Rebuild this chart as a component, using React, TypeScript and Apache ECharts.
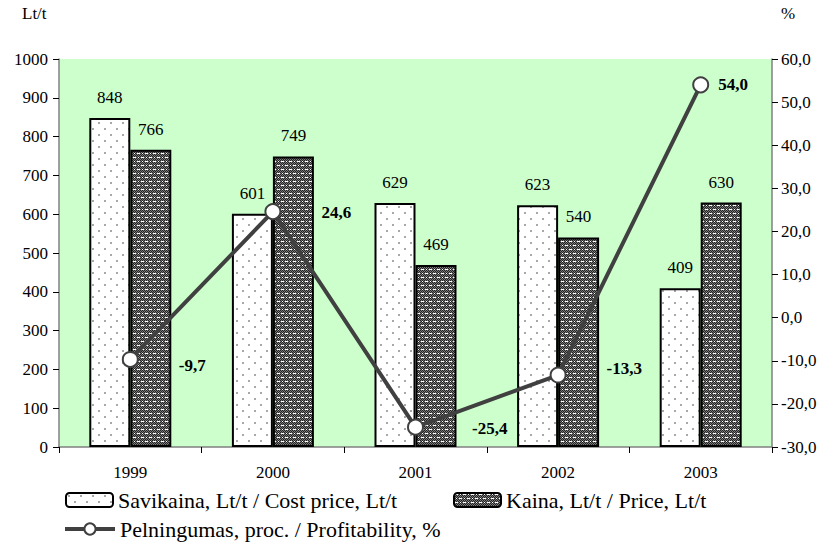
import React, { useEffect, useRef } from "react";
import * as echarts from "echarts";

const years = ["1999", "2000", "2001", "2002", "2003"];
const costPrice = [848, 601, 629, 623, 409];
const price = [766, 749, 469, 540, 630];
const profitability = [-9.7, 24.6, -25.4, -13.3, 54.0];

const costName = "Savikaina, Lt/t / Cost price, Lt/t";
const priceName = "Kaina, Lt/t / Price, Lt/t";
const profitName = "Pelningumas, proc. / Profitability, %";

const labelOffsets = [
  [0, 6],
  [0, 1],
  [8, 1],
  [0, -7],
  [-31, 0],
];

const FONT = "Liberation Serif";

function makeDotPattern(): HTMLCanvasElement {
  const c = document.createElement("canvas");
  c.width = 12;
  c.height = 12;
  const ctx = c.getContext("2d")!;
  ctx.fillStyle = "#ffffff";
  ctx.fillRect(0, 0, 12, 12);
  ctx.fillStyle = "#a8a8a8";
  ctx.fillRect(2, 2, 2, 2);
  ctx.fillRect(8, 8, 2, 2);
  return c;
}

function makeDarkPattern(): HTMLCanvasElement {
  const c = document.createElement("canvas");
  c.width = 8;
  c.height = 8;
  const ctx = c.getContext("2d")!;
  ctx.fillStyle = "#7a7a7a";
  ctx.fillRect(0, 0, 8, 8);
  ctx.fillStyle = "#222222";
  for (let y = 0; y < 8; y++) {
    for (let x = 0; x < 8; x++) {
      if ((x + y) % 2 === 0) ctx.fillRect(x, y, 1, 1);
    }
  }
  ctx.fillStyle = "#ffffff";
  ctx.fillRect(1, 1, 3, 1);
  ctx.fillRect(5, 5, 3, 1);
  ctx.fillRect(6, 1, 1, 1);
  ctx.fillRect(2, 5, 1, 1);
  return c;
}

const fmt1 = (v: number) => v.toFixed(1).replace(".", ",");

export default function App() {
  const ref = useRef<HTMLDivElement>(null);

  useEffect(() => {
    if (!ref.current) return;
    const chart = echarts.init(ref.current, undefined, { renderer: "svg" });
    const dot = { image: makeDotPattern(), repeat: "repeat" } as any;
    const dark = { image: makeDarkPattern(), repeat: "repeat" } as any;

    const legendText = { fontFamily: FONT, fontSize: 22, color: "#000" };
    const AX = 17;
    const unitStyle = {
      fontFamily: FONT,
      fontSize: AX,
      fontWeight: "normal",
      color: "#000",
    };

    chart.setOption({
      animation: false,
      backgroundColor: "#ffffff",
      textStyle: { fontFamily: FONT },
      title: [
        { text: "Lt/t", left: 22, top: 5, padding: 0, textStyle: unitStyle },
        { text: "%", left: 781, top: 5, padding: 0, textStyle: unitStyle },
      ],
      grid: {
        left: 59,
        right: 53,
        top: 59,
        bottom: 97,
        show: true,
        backgroundColor: "#ccffcc",
        borderWidth: 0,
      },
      legend: [
        {
          data: [costName],
          left: 65,
          top: 489,
          padding: 0,
          itemWidth: 47,
          itemHeight: 14,
          textStyle: legendText,
          selectedMode: false,
        },
        {
          data: [priceName],
          left: 453,
          top: 489,
          padding: 0,
          itemWidth: 47,
          itemHeight: 14,
          textStyle: legendText,
          selectedMode: false,
        },
        {
          data: [profitName],
          left: 63,
          top: 518,
          padding: 0,
          itemWidth: 50,
          itemHeight: 14,
          textStyle: legendText,
          selectedMode: false,
          lineStyle: { width: 4, color: "#404040" },
          itemStyle: { color: "#ffffff", borderColor: "#404040", borderWidth: 2 },
        },
      ],
      xAxis: {
        type: "category",
        data: years,
        boundaryGap: true,
        axisLine: { lineStyle: { color: "#808080", width: 1.5 } },
        axisTick: { show: true, length: 6, lineStyle: { color: "#000" } },
        axisLabel: { margin: 17, fontSize: AX, color: "#000", fontFamily: FONT },
        splitLine: { show: false },
      },
      yAxis: [
        {
          type: "value",
          min: 0,
          max: 1000,
          interval: 100,
          position: "left",
          axisLine: { show: true, lineStyle: { color: "#808080", width: 1.5 } },
          axisTick: { show: true, length: 6, lineStyle: { color: "#000" } },
          axisLabel: {
            margin: 11,
            fontSize: AX,
            color: "#000",
            fontFamily: FONT,
            formatter: (v: number) => String(v),
          },
          splitLine: { show: false },
        },
        {
          type: "value",
          min: -30,
          max: 60,
          interval: 10,
          position: "right",
          axisLine: { show: true, lineStyle: { color: "#808080", width: 1.5 } },
          axisTick: { show: true, length: 6, lineStyle: { color: "#000" } },
          axisLabel: {
            margin: 9,
            fontSize: AX,
            color: "#000",
            fontFamily: FONT,
            formatter: (v: number) => fmt1(v),
          },
          splitLine: { show: false },
        },
      ],
      series: [
        {
          name: costName,
          type: "bar",
          yAxisIndex: 0,
          data: costPrice,
          barWidth: 41,
          barGap: "0%",
          itemStyle: { color: dot, borderColor: "#000", borderWidth: 2 },
          label: {
            show: true,
            position: "top",
            distance: 12,
            fontSize: AX,
            color: "#000",
            fontFamily: FONT,
          },
        },
        {
          name: priceName,
          type: "bar",
          yAxisIndex: 0,
          data: price,
          barWidth: 41,
          barGap: "0%",
          itemStyle: { color: dark, borderColor: "#000", borderWidth: 2 },
          label: {
            show: true,
            position: "top",
            distance: 12,
            fontSize: AX,
            color: "#000",
            fontFamily: FONT,
          },
        },
        {
          name: profitName,
          type: "line",
          yAxisIndex: 1,
          data: profitability.map((v, i) => ({
            value: v,
            label: { offset: labelOffsets[i] },
          })),
          symbol: "circle",
          symbolSize: 15,
          lineStyle: { color: "#404040", width: 4 },
          itemStyle: { color: "#ffffff", borderColor: "#404040", borderWidth: 2 },
          label: {
            show: true,
            position: "right",
            distance: 40,
            fontSize: AX,
            fontWeight: "bold",
            color: "#000",
            fontFamily: FONT,
            formatter: (p: any) => fmt1(p.value),
          },
          z: 5,
        },
      ],
    });
    return () => chart.dispose();
  }, []);

  return (
    <div
      ref={ref}
      style={{ width: 825, height: 544, position: "absolute", left: 0, top: 0 }}
    />
  );
}
